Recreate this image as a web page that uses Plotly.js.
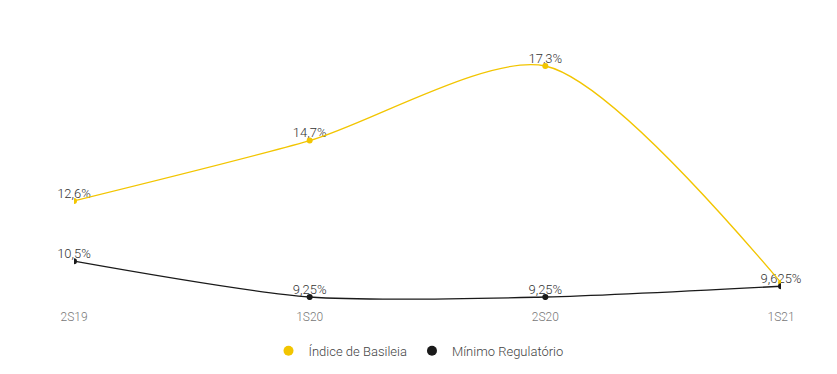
<!DOCTYPE html>
<html><head><meta charset="utf-8">
<script src="https://cdn.plot.ly/plotly-3.0.1.min.js"></script>
<style>html,body{margin:0;padding:0;background:#fff}#c{width:837px;height:374px}</style>
</head><body><div id="c"></div>
<script>
const categories = ["2S19", "1S20", "2S20", "1S21"];
const basileia = [12.6, 14.7, 17.3, 9.75];
const basileiaLabels = ["12,6%", "14,7%", "17,3%", ""];
const minimo = [10.5, 9.25, 9.25, 9.625];
const minimoLabels = ["10,5%", "9,25%", "9,25%", "9,625%"];
const seriesNames = ["Índice de Basileia", "Mínimo Regulatório"];
const colors = ["#F2C500", "#1a1a1a"];

const fam = "'Roboto Light', Roboto, 'Open Sans', sans-serif";
function line(y, name, color) {
  return {x: categories, y: y, name: name, type: "scatter", mode: "lines+markers",
    line: {shape: "spline", smoothing: 0.75, color: color, width: 1.3},
    marker: {size: 6, color: color}, showlegend: false, hoverinfo: "x+y"};
}
function labels(y, text, name) {
  return {x: categories, y: y, text: text, name: name, type: "scatter", mode: "text",
    textposition: "top center", cliponaxis: false,
    textfont: {family: fam, size: 13, color: "#333"}, showlegend: false, hoverinfo: "skip"};
}
function legendItem(name, color) {
  return {x: [null], y: [null], name: name, type: "scatter", mode: "markers",
    marker: {size: 10, color: color}, showlegend: true};
}
const data = [
  labels(basileia, basileiaLabels, seriesNames[0]),
  labels(minimo, minimoLabels, seriesNames[1]),
  line(basileia, seriesNames[0], colors[0]),
  line(minimo, seriesNames[1], colors[1]),
  legendItem(seriesNames[0], colors[0]),
  legendItem(seriesNames[1], colors[1])
];
const layout = {
  width: 837, height: 374, margin: {l: 74, r: 56, t: 40, b: 74},
  paper_bgcolor: "#fff", plot_bgcolor: "#fff", font: {family: fam, size: 12, color: "#444"},
  xaxis: {type: "category", range: [0, 3], showgrid: false, zeroline: false, showline: false,
    ticks: "outside", ticklen: 6, tickcolor: "rgba(0,0,0,0)", automargin: false,
    tickfont: {family: fam, size: 12, color: "#777"}},
  yaxis: {range: [9.146, 18.206], visible: false, showgrid: false, zeroline: false, automargin: false},
  showlegend: true,
  legend: {orientation: "h", x: 0.5, xanchor: "center", xref: "container", y: 0.062, yanchor: "middle", yref: "container",
    font: {family: fam, size: 13, color: "#444"}, tracegroupgap: 0}
};
Plotly.newPlot("c", data, layout, {displayModeBar: false, staticPlot: true});
</script></body></html>
